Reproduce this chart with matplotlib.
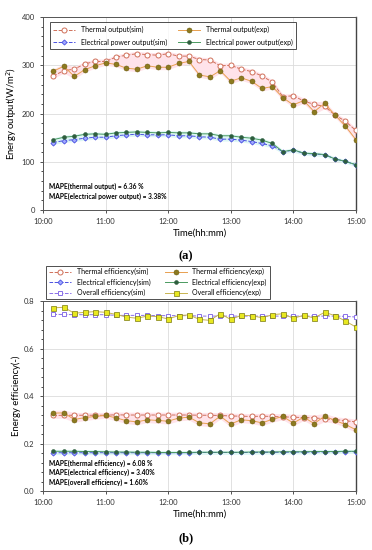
import matplotlib
matplotlib.use("Agg")
import matplotlib.dates as mdates
import matplotlib.pyplot as plt
import numpy as np
import pandas as pd

plt.rcParams["font.family"] = ["Lato", "DejaVu Sans"]

times = ["10:10", "10:20", "10:30", "10:40", "10:50", "11:00", "11:10", "11:20", "11:30", "11:40",
         "11:50", "12:00", "12:10", "12:20", "12:30", "12:40", "12:50", "13:00", "13:10", "13:20",
         "13:30", "13:40", "13:50", "14:00", "14:10", "14:20", "14:30", "14:40", "14:50", "15:00"]

# (a) energy output, W/m2
thermal_out_sim = [278, 289, 292, 303, 308, 308, 317, 321, 324, 322, 321, 324, 319, 319, 312,
                   311, 299, 300, 292, 287, 278, 265, 235, 237, 226, 219, 215, 197, 184, 165]
thermal_out_exp = [288, 298, 277, 291, 299, 305, 302, 294, 292, 299, 296, 296, 304, 308, 280,
                   276, 289, 267, 274, 267, 252, 256, 233, 218, 227, 204, 221, 197, 174, 146]
elec_out_sim = [140, 144, 146, 149, 151, 151, 154, 156, 157, 156, 156, 156, 154, 154, 152,
                151, 147, 147, 145, 142, 138, 133, 121, 124, 118, 116, 115, 106, 101, 94]
elec_out_exp = [146, 151, 153, 157, 158, 157, 160, 161, 162, 161, 160, 161, 160, 160, 158,
                158, 154, 154, 151, 149, 145, 138, 121, 125, 118, 117, 115, 106, 101, 94]

# (b) efficiencies, -
thermal_eff_sim = [0.319, 0.320, 0.320, 0.320, 0.320, 0.320, 0.322, 0.321, 0.321, 0.321,
                   0.321, 0.321, 0.321, 0.321, 0.320, 0.320, 0.319, 0.317, 0.316, 0.315,
                   0.316, 0.315, 0.313, 0.312, 0.310, 0.309, 0.305, 0.302, 0.297, 0.292]
thermal_eff_exp = [0.329, 0.330, 0.302, 0.310, 0.315, 0.319, 0.309, 0.297, 0.292, 0.301,
                   0.298, 0.295, 0.308, 0.312, 0.288, 0.284, 0.316, 0.283, 0.301, 0.297,
                   0.288, 0.303, 0.315, 0.287, 0.312, 0.285, 0.316, 0.298, 0.281, 0.259]
elec_eff_sim = [0.162, 0.162, 0.162, 0.162, 0.162, 0.162, 0.162, 0.162, 0.162, 0.162,
                0.162, 0.162, 0.162, 0.162, 0.163, 0.163, 0.163, 0.163, 0.163, 0.163,
                0.164, 0.164, 0.164, 0.165, 0.165, 0.165, 0.166, 0.166, 0.167, 0.167]
elec_eff_exp = [0.168, 0.168, 0.168, 0.167, 0.167, 0.166, 0.165, 0.165, 0.164, 0.164,
                0.163, 0.163, 0.163, 0.163, 0.164, 0.164, 0.164, 0.164, 0.164, 0.165,
                0.165, 0.165, 0.166, 0.166, 0.166, 0.167, 0.167, 0.167, 0.168, 0.168]
overall_eff_sim = [0.745, 0.745, 0.744, 0.744, 0.744, 0.744, 0.741, 0.741, 0.741, 0.741,
                   0.740, 0.740, 0.740, 0.740, 0.738, 0.738, 0.738, 0.738, 0.738, 0.738,
                   0.738, 0.738, 0.738, 0.738, 0.738, 0.738, 0.738, 0.738, 0.737, 0.734]
overall_eff_exp = [0.773, 0.775, 0.750, 0.754, 0.757, 0.754, 0.745, 0.734, 0.729, 0.738,
                   0.736, 0.726, 0.740, 0.743, 0.724, 0.720, 0.748, 0.724, 0.741, 0.740,
                   0.731, 0.744, 0.748, 0.729, 0.741, 0.730, 0.754, 0.740, 0.717, 0.692]

x = pd.to_datetime(["2020-01-01 " + t for t in times])
x_lim = pd.to_datetime(["2020-01-01 10:00", "2020-01-01 15:00"])

# series styles
C_TS = "#d0705a"     # thermal sim
C_TE_LINE = "#e8a050"
C_TE_MK = "#8c7a20"
C_ES = "#4a50e0"
C_EE = "#4a9a60"
C_EE_MK = "#2e5e3e"
C_OS = "#8a70e8"
C_OE_LINE = "#c8b450"
C_OE_MK = "#e8e820"

fig = plt.figure(figsize=(3.72, 5.5), dpi=100)
ax1 = fig.add_axes([0.1156, 0.618, 0.841, 0.351])
ax2 = fig.add_axes([0.1156, 0.107, 0.841, 0.345])


def style_axes(ax):
    ax.set_xlim(x_lim[0], x_lim[1])
    ax.xaxis.set_major_locator(mdates.HourLocator())
    ax.xaxis.set_major_formatter(mdates.DateFormatter("%H:%M"))
    ax.grid(True, color="#dcdcdc", linewidth=0.6)
    ax.set_axisbelow(True)
    for s in ["left", "bottom", "top"]:
        ax.spines[s].set_color("#555555")
        ax.spines[s].set_linewidth(0.7)
    ax.spines["right"].set_color("#444444")
    ax.spines["right"].set_linewidth(1.0)
    ax.tick_params(labelsize=5.5, length=2.5, width=0.6, colors="#333333")
    ax.tick_params(which="minor", length=1.5, width=0.5)
    ax.set_xlabel("Time(hh:mm)", fontsize=6.8, labelpad=2)


def band(ax, a, b, pad, color):
    lo = np.minimum(a, b) - pad
    hi = np.maximum(a, b) + pad
    ax.fill_between(x, lo, hi, color=color, linewidth=0, zorder=1)


def mape(ax, lines, ys):
    for s, yy in zip(lines, ys):
        ax.text(0.02, yy, s, transform=ax.transAxes, fontsize=4.8,
                fontweight="bold", va="center")


# ---- (a)
band(ax1, thermal_out_sim, thermal_out_exp, 5, "#ffe3ea")
band(ax1, elec_out_sim, elec_out_exp, 4, "#def7f5")
ax1.plot(x, thermal_out_sim, ls="--", lw=0.7, color=C_TS, marker="o", ms=3.6,
         mfc="white", mec=C_TS, mew=0.7, label="Thermal output(sim)", zorder=3)
ax1.plot(x, thermal_out_exp, ls="-", lw=0.7, color=C_TE_LINE, marker="o", ms=3.6,
         mfc=C_TE_MK, mec="#6e5e10", mew=0.4, label="Thermal output(exp)", zorder=3)
ax1.plot(x, elec_out_sim, ls="--", lw=0.7, color=C_ES, marker="D", ms=2.6,
         mfc="#a0a8ff", mec=C_ES, mew=0.6, label="Electrical power output(sim)", zorder=3)
ax1.plot(x, elec_out_exp, ls="-", lw=0.7, color=C_EE, marker="o", ms=2.8,
         mfc=C_EE_MK, mec=C_EE_MK, mew=0.4, label="Electrical power output(exp)", zorder=3)
style_axes(ax1)
ax1.set_ylim(0, 400)
ax1.set_yticks([0, 100, 200, 300, 400])
ax1.yaxis.set_minor_locator(plt.MultipleLocator(20))
ax1.set_ylabel("Energy output(W/m$^2$)", fontsize=6.8, labelpad=2)
h, l = ax1.get_legend_handles_labels()
order = [0, 2, 1, 3]
leg1 = ax1.legend([h[i] for i in order], [l[i] for i in order],
                  loc="upper left", ncol=2, fontsize=5.0, frameon=True, fancybox=False,
                  edgecolor="#222222", borderpad=0.5, handlelength=3.2,
                  columnspacing=1.6, labelspacing=0.75, bbox_to_anchor=(0.01, 0.99))
leg1.get_frame().set_linewidth(0.7)
mape(ax1, ["MAPE(thermal output) = 6.36 %", "MAPE(electrical power output) = 3.38%"],
     [0.124, 0.073])

# ---- (b)
band(ax2, thermal_eff_sim, thermal_eff_exp, 0.012, "#ffe3ea")
band(ax2, elec_eff_sim, elec_eff_exp, 0.008, "#def7f5")
ax2.plot(x, thermal_eff_sim, ls="--", lw=0.7, color=C_TS, marker="o", ms=3.6,
         mfc="white", mec=C_TS, mew=0.7, label="Thermal efficiency(sim)", zorder=3)
ax2.plot(x, thermal_eff_exp, ls="-", lw=0.7, color=C_TE_LINE, marker="o", ms=3.6,
         mfc=C_TE_MK, mec="#6e5e10", mew=0.4, label="Thermal efficiency(exp)", zorder=3)
ax2.plot(x, elec_eff_sim, ls="--", lw=0.7, color=C_ES, marker="D", ms=2.6,
         mfc="#a0a8ff", mec=C_ES, mew=0.6, label="Electrical efficiency(sim)", zorder=3)
ax2.plot(x, elec_eff_exp, ls="-", lw=0.7, color=C_EE, marker="o", ms=2.8,
         mfc=C_EE_MK, mec=C_EE_MK, mew=0.4, label="Electrical efficiency(exp)", zorder=3)
ax2.plot(x, overall_eff_sim, ls="--", lw=0.7, color=C_OS, marker="s", ms=3.4,
         mfc="white", mec=C_OS, mew=0.7, label="Overall efficiency(sim)", zorder=3)
ax2.plot(x, overall_eff_exp, ls="-", lw=0.7, color=C_OE_LINE, marker="s", ms=3.6,
         mfc=C_OE_MK, mec="#7a7a10", mew=0.5, label="Overall efficiency(exp)", zorder=3)
style_axes(ax2)
ax2.set_ylim(0, 0.8)
ax2.set_yticks([0.0, 0.2, 0.4, 0.6, 0.8])
ax2.yaxis.set_major_formatter(plt.FormatStrFormatter("%.1f"))
ax2.yaxis.set_minor_locator(plt.MultipleLocator(0.04))
ax2.set_ylabel("Energy efficiency(-)", fontsize=6.8, labelpad=2)
handles, labels = ax2.get_legend_handles_labels()
order = [0, 2, 4, 1, 3, 5]
leg2 = ax2.legend([handles[i] for i in order], [labels[i] for i in order],
                  loc="lower left", ncol=2, fontsize=5.0, frameon=True, fancybox=False,
                  edgecolor="#222222", borderpad=0.4, handlelength=3.2,
                  columnspacing=2.0, labelspacing=0.45, bbox_to_anchor=(0.0, 0.995))
leg2.get_frame().set_linewidth(0.7)
mape(ax2, ["MAPE(thermal efficiency) = 6.08 %", "MAPE(electrical efficiency) = 3.40%",
           "MAPE(overall efficiency) = 1.60%"], [0.147, 0.098, 0.047])

fig.text(0.5, 1 - 256 / 550, "(a)", ha="center", va="center", fontsize=9,
         family="Liberation Serif", fontweight="bold")
fig.text(0.5, 1 - 538 / 550, "(b)", ha="center", va="center", fontsize=9,
         family="Liberation Serif", fontweight="bold")

fig.savefig("out.png", dpi=100)
